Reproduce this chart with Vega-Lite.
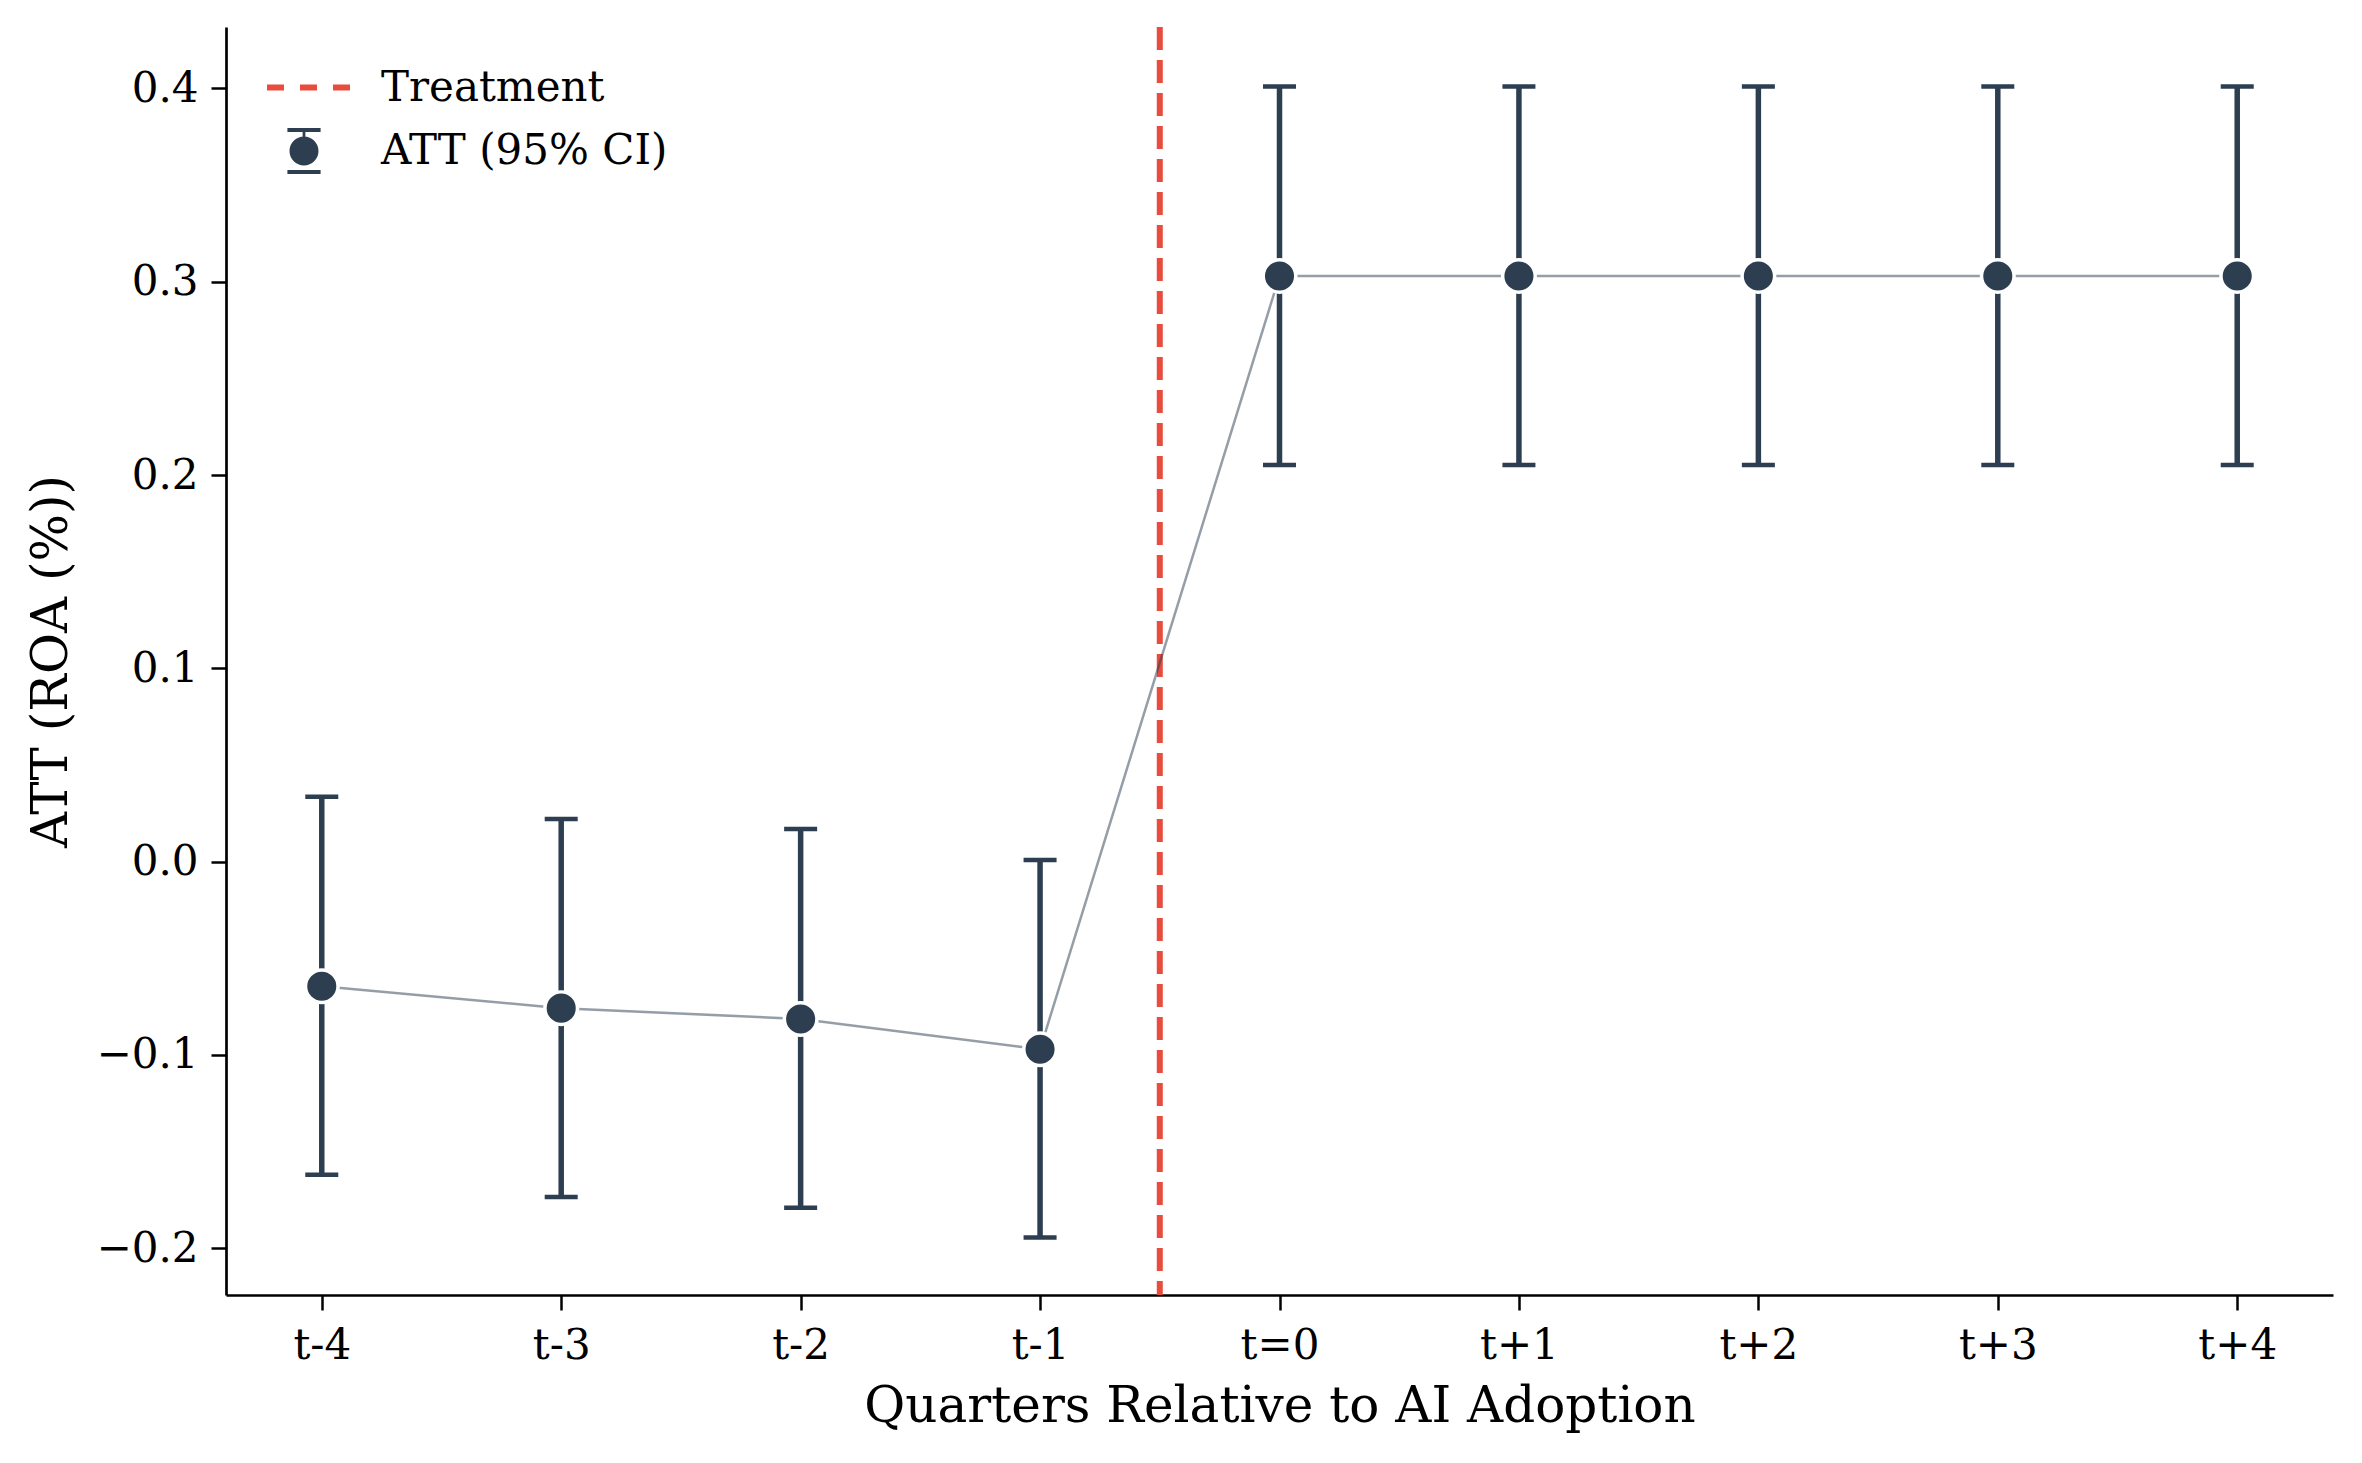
{
  "$schema": "https://vega.github.io/schema/vega-lite/v6.json",
  "autosize": {"type": "none"},
  "width": 2107,
  "height": 1268,
  "padding": {"left": 226, "top": 27, "right": 29, "bottom": 168},
  "background": "white",
  "config": {
    "view": {"stroke": null},
    "font": "DejaVu Serif",
    "axis": {
      "grid": false,
      "domainColor": "black",
      "domainWidth": 2.7,
      "tickColor": "black",
      "tickWidth": 2.5,
      "tickSize": 15,
      "labelFont": "DejaVu Serif",
      "labelFontSize": 42,
      "labelColor": "black",
      "titleFont": "DejaVu Serif",
      "titleFontSize": 50,
      "titleFontWeight": "normal",
      "titleColor": "black"
    },
    "legend": {
      "labelFont": "DejaVu Serif",
      "labelFontSize": 42,
      "labelColor": "black",
      "labelLimit": 0,
      "padding": 0,
      "titlePadding": 0
    }
  },
  "datasets": {
    "att": [
      {"k": -4, "q": "t-4", "att": -0.0645, "lo": -0.162, "hi": 0.0336, "series": "ATT (95% CI)"},
      {"k": -3, "q": "t-3", "att": -0.0758, "lo": -0.1735, "hi": 0.0221, "series": "ATT (95% CI)"},
      {"k": -2, "q": "t-2", "att": -0.0814, "lo": -0.179, "hi": 0.0169, "series": "ATT (95% CI)"},
      {"k": -1, "q": "t-1", "att": -0.0971, "lo": -0.1945, "hi": 0.0009, "series": "ATT (95% CI)"},
      {"k": 0, "q": "t=0", "att": 0.303, "lo": 0.2052, "hi": 0.401, "series": "ATT (95% CI)"},
      {"k": 1, "q": "t+1", "att": 0.303, "lo": 0.2052, "hi": 0.401, "series": "ATT (95% CI)"},
      {"k": 2, "q": "t+2", "att": 0.303, "lo": 0.2052, "hi": 0.401, "series": "ATT (95% CI)"},
      {"k": 3, "q": "t+3", "att": 0.303, "lo": 0.2052, "hi": 0.401, "series": "ATT (95% CI)"},
      {"k": 4, "q": "t+4", "att": 0.303, "lo": 0.2052, "hi": 0.401, "series": "ATT (95% CI)"}
    ],
    "treat": [
      {"k": -0.5, "series": "Treatment"}
    ]
  },
  "layer": [
    {
      "data": {"name": "treat"},
      "mark": {"type": "rule", "strokeWidth": 6, "strokeDash": [23, 10]},
      "encoding": {
        "x": {
          "field": "k", "type": "quantitative",
          "scale": {"domain": [-4.4, 4.4], "nice": false, "zero": false},
          "axis": {
            "values": [-4, -3, -2, -1, 0, 1, 2, 3, 4],
            "labelExpr": "datum.value < 0 ? 't' + datum.value : (datum.value == 0 ? 't=0' : 't+' + datum.value)",
            "labelPadding": 15,
            "title": "Quarters Relative to AI Adoption",
            "titlePadding": 15
          }
        },
        "color": {
          "field": "series", "type": "nominal",
          "scale": {"domain": ["Treatment"], "range": ["#e74c3c"]},
          "legend": {
            "title": null,
            "orient": "none",
            "legendX": 38,
            "legendY": 16,
            "symbolType": "stroke",
            "symbolSize": 6889,
            "symbolStrokeWidth": 6,
            "symbolDash": [17, 16],
            "labelOffset": 28
          }
        }
      }
    },
    {
      "data": {"name": "att"},
      "layer": [
        {
          "mark": {"type": "point", "filled": true, "fill": "#2c3e50", "strokeWidth": 0, "opacity": 0, "size": 1764},
          "encoding": {
            "x": {"field": "k", "type": "quantitative"},
            "y": {"field": "att", "type": "quantitative"},
            "shape": {
              "field": "series", "type": "nominal",
              "scale": {"domain": ["ATT (95% CI)"], "range": ["M-0.79,-1.095H0.79V-0.905H-0.79ZM-0.79,0.905H0.79V1.095H-0.79ZM-0.065,-0.905H0.065V-0.6H-0.065ZM0.69,0A0.69,0.69,0,1,1,-0.69,0A0.69,0.69,0,1,1,0.69,0Z"]},
              "legend": {
                "title": null,
                "orient": "none",
                "legendX": 57,
                "legendY": 103,
                "symbolSize": 1764,
                "symbolOpacity": 1,
                "symbolFillColor": "#2c3e50",
                "symbolStrokeWidth": 0,
                "labelOffset": 56
              }
            }
          }
        },
        {
          "mark": {"type": "rule", "color": "#2c3e50", "strokeWidth": 5.5},
          "encoding": {
            "x": {"field": "k", "type": "quantitative"},
            "y": {
              "field": "lo", "type": "quantitative",
              "scale": {"domain": [-0.2242, 0.4318], "nice": false, "zero": false},
              "axis": {
                "values": [-0.2, -0.1, 0, 0.1, 0.2, 0.3, 0.4],
                "format": ".1f",
                "labelPadding": 13,
                "title": "ATT (ROA (%))",
                "titlePadding": 20
              }
            },
            "y2": {"field": "hi"}
          }
        },
        {
          "mark": {"type": "tick", "orient": "horizontal", "color": "#2c3e50", "opacity": 1, "size": 33, "thickness": 4.5},
          "encoding": {
            "x": {"field": "k", "type": "quantitative"},
            "y": {"field": "lo", "type": "quantitative"}
          }
        },
        {
          "mark": {"type": "tick", "orient": "horizontal", "color": "#2c3e50", "opacity": 1, "size": 33, "thickness": 4.5},
          "encoding": {
            "x": {"field": "k", "type": "quantitative"},
            "y": {"field": "hi", "type": "quantitative"}
          }
        },
        {
          "mark": {"type": "line", "color": "#2c3e50", "opacity": 0.5, "strokeWidth": 2.5},
          "encoding": {
            "x": {"field": "k", "type": "quantitative"},
            "y": {"field": "att", "type": "quantitative"}
          }
        },
        {
          "mark": {"type": "point", "filled": true, "fill": "white", "stroke": null, "opacity": 1, "size": 1300},
          "encoding": {
            "x": {"field": "k", "type": "quantitative"},
            "y": {"field": "att", "type": "quantitative"}
          }
        },
        {
          "mark": {"type": "point", "filled": true, "fill": "#2c3e50", "stroke": "#2c3e50", "strokeWidth": 3, "opacity": 1, "size": 680},
          "encoding": {
            "x": {"field": "k", "type": "quantitative"},
            "y": {"field": "att", "type": "quantitative"}
          }
        }
      ]
    }
  ]
}
